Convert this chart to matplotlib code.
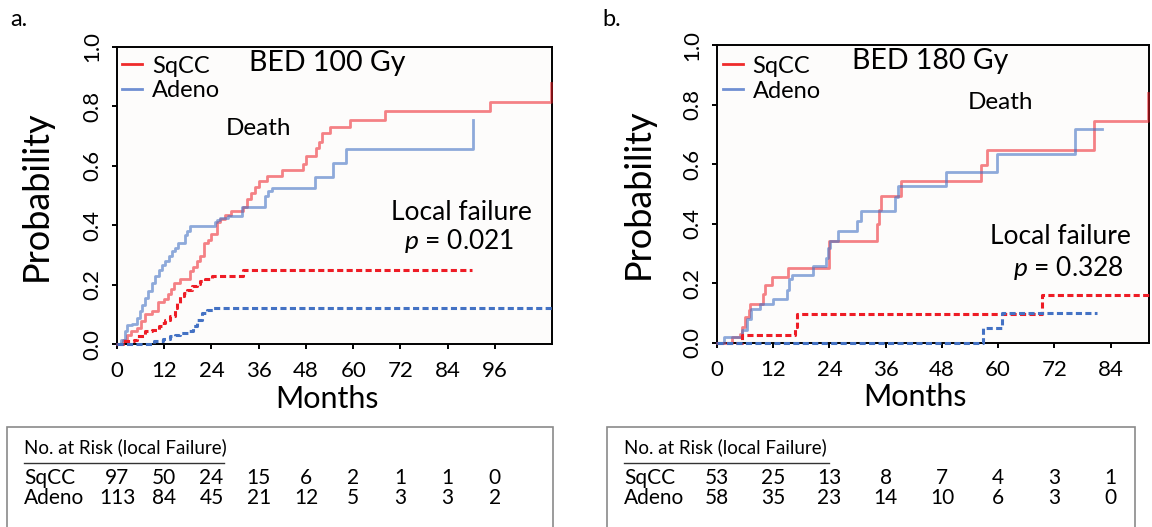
import matplotlib
matplotlib.use("Agg")
import matplotlib.pyplot as plt
from matplotlib.lines import Line2D
from matplotlib.patches import Rectangle
import matplotlib.transforms as mtransforms

plt.rcParams['font.family'] = ['Lato', 'DejaVu Sans']
plt.rcParams['mathtext.fontset'] = 'custom'
plt.rcParams['mathtext.rm'] = 'Lato'
plt.rcParams['mathtext.it'] = 'Lato:italic'

# ---------------- data ----------------
# Panel a (BED 100 Gy)
a_sqcc_death_t = [0, 1.5, 2.5, 3.5, 5, 6, 7, 9, 10.5, 12, 13, 13.8, 14.5, 16, 18.5, 19.3, 20.2, 21, 22, 23, 24,
                  25.5, 26.2, 27.5, 29, 32, 33, 34, 35, 36, 38, 42, 47.3, 48.1, 50.6, 51.3, 52, 54.1, 59.1, 68,
                  94.7, 110.3]
a_sqcc_death_p = [0, .013, .03, .045, .055, .076, .10, .11, .14, .15, .17, .185, .205, .22, .245, .26, .278, .297,
                  .34, .35, .37, .41, .42, .435, .447, .46, .487, .508, .53, .55, .565, .585, .607, .632, .66, .68,
                  .71, .73, .753, .783, .815, .88]
a_adeno_death_t = [0, 1, 2, 2.5, 3.8, 5.1, 5.9, 6.3, 7.2, 7.9, 8.9, 9.7, 10.6, 11.4, 12.3, 13.1, 13.9, 14.8, 15.6,
                   17.3, 17.7, 18.6, 24.9, 25.4, 26.2, 28.3, 31.7, 37.6, 38.4, 39.3, 50.3, 54.9, 58.1, 90.4]
a_adeno_death_p = [0, .015, .043, .063, .068, .088, .11, .13, .155, .177, .205, .228, .25, .267, .278, .297, .312,
                   .323, .34, .368, .379, .396, .41, .419, .424, .432, .462, .497, .514, .525, .562, .609, .657, .753]
a_sqcc_lf_t = [0, 1.5, 4.2, 5.1, 7, 8.9, 10.6, 11.4, 12.3, 13.5, 14.8, 15.2, 16.1, 16.9, 17.8, 19, 20.3, 21.1,
               22.4, 24.1, 32.1, 90.2]
a_sqcc_lf_p = [0, .01, .013, .027, .043, .048, .06, .071, .082, .093, .121, .138, .16, .172, .183, .194, .203,
               .211, .219, .228, .25, .25]
a_adeno_lf_t = [0, 9.5, 11.8, 13.5, 14.8, 16.1, 18.2, 19.4, 20.3, 21.6, 22.8, 24.5, 110.5]
a_adeno_lf_p = [0, .009, .017, .026, .031, .037, .043, .06, .082, .104, .116, .121, .121]

# Panel b (BED 180 Gy)
b_sqcc_death_t = [0, 3.2, 5, 5.3, 6, 6.8, 7.1, 9.8, 10.3, 11.7, 15.2, 23.8, 34.2, 34.6, 35, 39.2, 56.3, 57.7,
                  80.5, 92.0]
b_sqcc_death_p = [0, .02, .031, .054, .087, .11, .132, .165, .193, .223, .253, .342, .40, .445, .492, .545, .597,
                  .647, .744, .84]
b_adeno_death_t = [0, 1.5, 5.3, 6.4, 7.3, 9.2, 12, 15, 15.4, 16, 20.5, 23.3, 23.7, 24.2, 25.8, 29.9, 30.7, 38,
                   38.7, 48.9, 59.8, 76.3, 82.1]
b_adeno_death_p = [0, .02, .045, .08, .113, .13, .149, .177, .214, .227, .259, .285, .319, .341, .377, .411, .443,
                   .489, .528, .575, .635, .718, .718]
b_sqcc_lf_t = [0, 5.3, 16.7, 17.1, 69.3, 92.2]
b_sqcc_lf_p = [0, .028, .055, .096, .16, .16]
b_adeno_lf_t = [0, 56.8, 60.8, 81.0]
b_adeno_lf_p = [0, .05, .10, .10]

xticks_a = [0, 12, 24, 36, 48, 60, 72, 84, 96]
xticks_b = [0, 12, 24, 36, 48, 60, 72, 84]
yticks = [0.0, 0.2, 0.4, 0.6, 0.8, 1.0]

risk_a_sqcc = [97, 50, 24, 15, 6, 2, 1, 1, 0]
risk_a_adeno = [113, 84, 45, 21, 12, 5, 3, 3, 2]
risk_b_sqcc = [53, 25, 13, 8, 7, 4, 3, 1]
risk_b_adeno = [58, 35, 23, 14, 10, 6, 3, 0]

groups = ['SqCC', 'Adeno']

# ---------------- style ----------------
RED = '#ee1c25'
BLUE = '#4472c4'
LEG_RED = '#ef2b2b'
LEG_BLUE = '#6f8fd2'
FACE = '#fdfcfb'

W, H = 1152, 527
fig = plt.figure(figsize=(W / 100, H / 100), dpi=100)


def fx(px):
    return px / W


def fy(py):
    return 1 - py / H


def make_panel(box, xlim, xticks, d, title, title_x, death_xy, lf_xy, p_xy, p_text, ylab_x, xlab_xy, leg_xy):
    l, r, t, b = box
    ax = fig.add_axes([fx(l), fy(b), fx(r - l), (b - t) / H])
    ax.set_facecolor(FACE)
    (sd_t, sd_p, ad_t, ad_p, sl_t, sl_p, al_t, al_p) = d
    ax.step(sd_t, sd_p, where='post', color=RED, alpha=0.55, lw=2.0, zorder=3, clip_on=False)
    ax.step(ad_t, ad_p, where='post', color=BLUE, alpha=0.6, lw=2.0, zorder=3, clip_on=False)
    ax.step(sl_t, sl_p, where='post', color=RED, lw=2.2, dashes=(2.0, 1.1), zorder=4, clip_on=False)
    ax.step(al_t, al_p, where='post', color=BLUE, lw=2.2, dashes=(2.0, 1.1), zorder=4, clip_on=False)
    ax.set_xlim(*xlim)
    ax.set_ylim(0, 1)
    ax.set_xticks(xticks)
    ax.set_yticks(yticks)
    ax.set_yticklabels([f'{v:.1f}' for v in yticks])
    for s in ax.spines.values():
        s.set_linewidth(1.4)
    ax.tick_params(axis='both', length=3.5, width=1.4, labelsize=16, color='black')
    ax.tick_params(axis='x', pad=8.5)
    ax.tick_params(axis='y', pad=7, labelrotation=90)
    for lab in ax.get_yticklabels():
        lab.set_va('center')
    ax.set_ylabel('Probability', fontsize=26, va='center')
    ax.yaxis.set_label_coords(ylab_x, 0.5)
    ax.set_xlabel('Months', fontsize=22, va='baseline')
    ax.xaxis.set_label_coords(*xlab_xy)

    ax.text(title_x, 0.946, title, transform=ax.transAxes, fontsize=20.5, ha='center', va='center')
    ax.text(death_xy[0], death_xy[1], 'Death', transform=ax.transAxes, fontsize=17.5, ha='center', va='center')
    ax.text(lf_xy[0], lf_xy[1], 'Local failure', transform=ax.transAxes, fontsize=19, ha='center', va='center')
    ax.text(p_xy[0], p_xy[1], p_text, transform=ax.transAxes, fontsize=19, ha='center', va='center')

    handles = [Line2D([], [], color=LEG_RED, lw=2.0), Line2D([], [], color=LEG_BLUE, lw=2.0)]
    ax.legend(handles, groups, loc='upper left', bbox_to_anchor=leg_xy, frameon=False, fontsize=17,
              handlelength=0.85, handletextpad=0.42, labelspacing=0.16, borderpad=0, borderaxespad=0)
    return ax


ax_a = make_panel((117, 552, 47, 344), (0, 110.5), xticks_a,
                  (a_sqcc_death_t, a_sqcc_death_p, a_adeno_death_t, a_adeno_death_p,
                   a_sqcc_lf_t, a_sqcc_lf_p, a_adeno_lf_t, a_adeno_lf_p),
                  'BED 100 Gy', 0.483, (0.326, 0.724), (0.791, 0.444), (0.786, 0.347), r'$p$ = 0.021',
                  -0.186, (0.483, -0.2155), (0.0115, 0.971))
ax_b = make_panel((717, 1149, 45, 343), (0, 92.2), xticks_b,
                  (b_sqcc_death_t, b_sqcc_death_p, b_adeno_death_t, b_adeno_death_p,
                   b_sqcc_lf_t, b_sqcc_lf_p, b_adeno_lf_t, b_adeno_lf_p),
                  'BED 180 Gy', 0.493, (0.657, 0.807), (0.796, 0.356), (0.8125, 0.252), r'$p$ = 0.328',
                  -0.183, (0.458, -0.211), (0.013, 0.964))

fig.text(fx(10), fy(19), 'a.', fontsize=17, ha='left', va='center')
fig.text(fx(602), fy(19), 'b.', fontsize=17, ha='left', va='center')


# ---------------- at-risk tables ----------------
def risk_table(ax, box_l, box_r, text_l, line_r, xticks, sq, ad):
    fig.patches.append(Rectangle((fx(box_l), -0.1), fx(box_r - box_l), fy(426.5) + 0.1,
                                 transform=fig.transFigure, fill=False, edgecolor='#8a8a8a', lw=1.2))
    fig.text(fx(text_l), fy(447), 'No. at Risk (local Failure)', fontsize=13.5, ha='left', va='center')
    fig.add_artist(Line2D([fx(text_l), fx(line_r)], [fy(463), fy(463)], transform=fig.transFigure,
                          color='#333333', lw=1.0))
    trans = mtransforms.blended_transform_factory(ax.transData, fig.transFigure)
    for name, vals, yy in ((groups[0], sq, 478.5), (groups[1], ad, 498)):
        fig.text(fx(text_l), fy(yy), name, fontsize=15, ha='left', va='center')
        for xv, v in zip(xticks, vals):
            ax.text(xv, fy(yy), str(v), transform=trans, fontsize=15, ha='center', va='center', clip_on=False)


risk_table(ax_a, 7, 553, 24, 224, xticks_a, risk_a_sqcc, risk_a_adeno)
risk_table(ax_b, 607, 1135, 624, 829, xticks_b, risk_b_sqcc, risk_b_adeno)

fig.savefig('out.png', dpi=100, facecolor='white')
